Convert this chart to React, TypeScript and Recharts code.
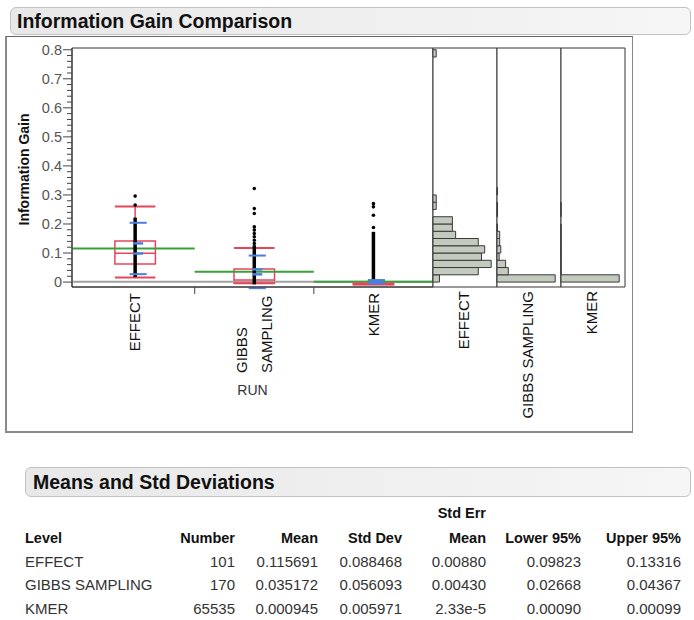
import React from 'react';
import { ComposedChart, XAxis, YAxis, ReferenceLine, ReferenceArea, Scatter } from 'recharts';

const FONT = '"Liberation Sans", Arial, Helvetica, sans-serif';

// ---------------- data ----------------
const groups = ['EFFECT', 'GIBBS SAMPLING', 'KMER'];
const groupLabelLines = [['EFFECT'], ['GIBBS', 'SAMPLING'], ['KMER']];
const groupCounts = [101, 170, 65535];
const means = [0.115691, 0.035172, 0.000945];
const stdDevs = [0.088468, 0.056093, 0.005971];
const stdErrs = [0.0088, 0.0043, 0.0000233];
const lower95 = [0.09823, 0.02668, 0.0009];
const upper95 = [0.13316, 0.04367, 0.00099];

const whiskerLow = [0.016, -0.004, -0.008];
const quartile1 = [0.062, -0.004, -0.008];
const medians = [0.099, 0.007, -0.0065];
const quartile3 = [0.141, 0.045, -0.005];
const whiskerHigh = [0.26, 0.117, -0.005];
const grandMean = 0.0012;

// dense runs of stacked points and separate points
const pointRunLow = [0.017, -0.008, -0.006];
const pointRunHigh = [0.222, 0.127, 0.173];
const outlierGroup = [0, 0, 1, 1, 1, 1, 1, 1, 1, 1, 1, 2, 2, 2, 2];
const outlierValue = [0.265, 0.296, 0.133, 0.144, 0.156, 0.167, 0.179, 0.19, 0.236, 0.253, 0.322, 0.188, 0.23, 0.259, 0.27];

const binStarts = [0, 0.025, 0.05, 0.075, 0.1, 0.125, 0.15, 0.175, 0.2, 0.225, 0.25, 0.275, 0.3, 0.325, 0.35, 0.375,
  0.4, 0.425, 0.45, 0.475, 0.5, 0.525, 0.55, 0.575, 0.6, 0.625, 0.65, 0.675, 0.7, 0.725, 0.75, 0.775];
const binWidth = 0.025;
const effectCounts = [2, 14, 18, 15, 16, 14, 7, 6, 6, 0, 1, 1, 0, 0, 0, 0, 0, 0, 0, 0, 0, 0, 0, 0, 0, 0, 0, 0, 0, 0, 0, 1];
const gibbsCounts = [108, 21, 16, 4, 7, 5, 5, 1, 0, 1, 1, 0, 1, 0, 0, 0, 0, 0, 0, 0, 0, 0, 0, 0, 0, 0, 0, 0, 0, 0, 0, 0];
const kmerCounts = [65480, 20, 10, 8, 6, 4, 3, 1, 0, 1, 2, 0, 0, 0, 0, 0, 0, 0, 0, 0, 0, 0, 0, 0, 0, 0, 0, 0, 0, 0, 0, 0];
const histCounts = [effectCounts, gibbsCounts, kmerCounts];

const yTicks = [0, 0.02, 0.04, 0.06, 0.08, 0.1, 0.12, 0.14, 0.16, 0.18, 0.2, 0.22, 0.24, 0.26, 0.28, 0.3, 0.32, 0.34,
  0.36, 0.38, 0.4, 0.42, 0.44, 0.46, 0.48, 0.5, 0.52, 0.54, 0.56, 0.58, 0.6, 0.62, 0.64, 0.66, 0.68, 0.7, 0.72, 0.74,
  0.76, 0.78, 0.8];
const xTicks = [0.5, 1, 1.5, 2, 2.5];

const tableHeaders = ['Number', 'Mean', 'Std Dev', 'Mean', 'Lower 95%', 'Upper 95%'];

// ---------------- layout / style ----------------
const Y_DOMAIN: [number, number] = [-0.017, 0.806];
const X_DOMAIN: [number, number] = [-0.03, 3];
const RED = '#e6465a';
const GREEN = '#3aa13a';
const BLUE = '#4a7ee0';
const BOX_HALF = 0.17;
const BLUE_SHIFT = 0.025;

const outliers = outlierValue.map((v, i) => ({ x: outlierGroup[i] + 0.5, y: v }));

const renderYTick = (props: any) => {
  const { x, y, payload } = props;
  const v = payload.value as number;
  const major = Math.abs(v * 10 - Math.round(v * 10)) < 1e-6;
  return (
    <g key={`yt-${v}`}>
      <line x1={x - (major ? 9 : 5)} y1={y} x2={x} y2={y} stroke="#444" strokeWidth={1} />
      {major ? (
        <text x={x - 10} y={y} dy="0.36em" textAnchor="end" fontSize={14.5} fill="#555" fontFamily={FONT}>
          {v === 0 ? '0' : String(v)}
        </text>
      ) : null}
    </g>
  );
};

const renderXTick = (props: any) => {
  const { x, y, payload } = props;
  const v = payload.value as number;
  if (Number.isInteger(v)) {
    return <line key={`xt-${v}`} x1={x} y1={y} x2={x} y2={y + 7} stroke="#444" strokeWidth={1} />;
  }
  const lines = groupLabelLines[Math.floor(v)];
  if (lines.length === 1) {
    const y0 = y + 6;
    return (
      <text key={`xl-${v}`} transform={`rotate(-90, ${x}, ${y0})`} x={x} y={y0} dy="0.35em" textAnchor="end"
        fontSize={15} fill="#111" fontFamily={FONT}>
        {lines[0]}
      </text>
    );
  }
  const y0 = y + 86;
  return (
    <g key={`xl-${v}`}>
      {lines.map((t, i) => {
        const lx = x + (i - (lines.length - 1) / 2) * 25;
        return (
          <text key={t} transform={`rotate(-90, ${lx}, ${y0})`} x={lx} y={y0} dy="0.35em" textAnchor="start"
            fontSize={15} fill="#111" fontFamily={FONT}>
            {t}
          </text>
        );
      })}
    </g>
  );
};

const makeHistTick = (name: string) => (props: any) => {
  const { x, y } = props;
  const lx = x - 1;
  const y0 = y + 4;
  return (
    <text transform={`rotate(-90, ${lx}, ${y0})`} x={lx} y={y0} dy="0.35em" textAnchor="end" fontSize={15}
      fill="#111" fontFamily={FONT}>
      {name}
    </text>
  );
};

const dotShape = (p: any) => <circle cx={p.cx} cy={p.cy} r={1.8} fill="#000" />;

function MainPlot() {
  return (
    <ComposedChart width={434} height={440} margin={{ top: 48, right: 1, bottom: 0, left: 0 }}>
      <XAxis type="number" dataKey="x" domain={X_DOMAIN} ticks={xTicks} interval={0} tickSize={0} tickMargin={0}
        tickLine={false} tick={renderXTick} axisLine={{ stroke: '#333' }} height={153} allowDataOverflow
        label={{ value: 'RUN', position: 'insideTop', offset: 98, fill: '#333', fontSize: 14 }} />
      <YAxis type="number" dataKey="y" domain={Y_DOMAIN} ticks={yTicks} interval={0} tickSize={0} tickMargin={0}
        tickLine={false} tick={renderYTick} axisLine={{ stroke: '#333' }} width={72} allowDataOverflow
        label={{ value: 'Information Gain', angle: -90, position: 'center', dx: -12, dy: 2, fill: '#111', fontSize: 14, fontWeight: 'bold' }} />
      <ReferenceArea x1={X_DOMAIN[0]} x2={X_DOMAIN[1]} y1={Y_DOMAIN[0]} y2={Y_DOMAIN[1]} fill="none" stroke="#333" strokeWidth={1} />
      <ReferenceLine y={grandMean} stroke="#a0a0a0" strokeWidth={2} />
      {groups.map((g, i) => (
        <ReferenceLine key={`mean-${g}`} segment={[{ x: i === 0 ? X_DOMAIN[0] : i, y: means[i] }, { x: i + 1, y: means[i] }]}
          stroke={GREEN} strokeWidth={2} ifOverflow="visible" />
      ))}
      {groups.map((g, i) => {
        const c = i + 0.5;
        return (
          <React.Fragment key={`box-${g}`}>
            <ReferenceArea x1={c - BOX_HALF} x2={c + BOX_HALF} y1={quartile1[i]} y2={quartile3[i]} fill="none" stroke={RED} strokeWidth={1.5} ifOverflow="visible" />
            <ReferenceLine segment={[{ x: c - BOX_HALF, y: medians[i] }, { x: c + BOX_HALF, y: medians[i] }]} stroke={RED} strokeWidth={1.5} ifOverflow="visible" />
            <ReferenceLine segment={[{ x: c, y: quartile3[i] }, { x: c, y: whiskerHigh[i] }]} stroke={RED} strokeWidth={1.5} ifOverflow="visible" />
            <ReferenceLine segment={[{ x: c, y: quartile1[i] }, { x: c, y: whiskerLow[i] }]} stroke={RED} strokeWidth={1.5} ifOverflow="visible" />
            <ReferenceLine segment={[{ x: c - BOX_HALF, y: whiskerHigh[i] }, { x: c + BOX_HALF, y: whiskerHigh[i] }]} stroke={RED} strokeWidth={2} ifOverflow="visible" />
            <ReferenceLine segment={[{ x: c - BOX_HALF, y: whiskerLow[i] }, { x: c + BOX_HALF, y: whiskerLow[i] }]} stroke={RED} strokeWidth={2} ifOverflow="visible" />
          </React.Fragment>
        );
      })}
      {groups.map((g, i) => (
        <ReferenceLine key={`run-${g}`} segment={[{ x: i + 0.5, y: pointRunLow[i] }, { x: i + 0.5, y: pointRunHigh[i] }]}
          stroke="#000" strokeWidth={3.5} ifOverflow="visible" />
      ))}
      <Scatter data={outliers} dataKey="y" shape={dotShape} isAnimationActive={false} />
      {groups.map((g, i) => {
        const c = i + 0.5 + BLUE_SHIFT;
        const hi = means[i] + stdDevs[i];
        const lo = means[i] - stdDevs[i];
        return (
          <React.Fragment key={`blue-${g}`}>
            <ReferenceLine segment={[{ x: c - 0.072, y: hi }, { x: c + 0.072, y: hi }]} stroke={BLUE} strokeWidth={2} ifOverflow="visible" />
            <ReferenceLine segment={[{ x: c - 0.072, y: lo }, { x: c + 0.072, y: lo }]} stroke={BLUE} strokeWidth={2} ifOverflow="visible" />
            <ReferenceLine segment={[{ x: c - 0.042, y: upper95[i] }, { x: c + 0.042, y: upper95[i] }]} stroke={BLUE} strokeWidth={2.5} ifOverflow="visible" />
            <ReferenceLine segment={[{ x: c - 0.042, y: lower95[i] }, { x: c + 0.042, y: lower95[i] }]} stroke={BLUE} strokeWidth={2.5} ifOverflow="visible" />
          </React.Fragment>
        );
      })}
    </ComposedChart>
  );
}

function HistPanel({ idx }: { idx: number }) {
  const counts = histCounts[idx];
  const maxX = Math.max(...counts) * 1.1;
  return (
    <ComposedChart width={66} height={440} margin={{ top: 48, right: 1, bottom: 0, left: 1 }}>
      <XAxis type="number" dataKey="c" domain={[0, maxX]} ticks={[maxX / 2]} interval={0} tickSize={0} tickMargin={0}
        tickLine={false} axisLine={false} tick={makeHistTick(groups[idx])} height={153} allowDataOverflow />
      <YAxis type="number" dataKey="y" domain={Y_DOMAIN} hide allowDataOverflow />
      <ReferenceArea x1={0} x2={maxX} y1={Y_DOMAIN[0]} y2={Y_DOMAIN[1]} fill="#fff" fillOpacity={1} stroke="#333" strokeWidth={1} />
      {binStarts.map((b, i) =>
        counts[i] > 0 ? (
          <ReferenceArea key={`bin-${i}`} x1={0} x2={counts[i]} y1={b} y2={b + binWidth} fill="#c3cabe" fillOpacity={1}
            stroke="#3a3a3a" strokeWidth={1} />
        ) : null
      )}
    </ComposedChart>
  );
}

const barStyle: React.CSSProperties = {
  position: 'absolute',
  boxSizing: 'border-box',
  border: '1px solid #c2c2c2',
  borderRadius: 6,
  background: 'linear-gradient(to right, #e8e8e8, #f6f6f6)',
  fontWeight: 'bold',
  fontSize: 19.5,
  color: '#111',
  display: 'flex',
  alignItems: 'center',
};

const fmtStdErr = (v: number) => (v < 1e-4 ? v.toExponential(2) : v.toFixed(5));

function StatsTable() {
  const colRight = [235, 318, 402, 486, 581, 681];
  const rowY = [562, 585, 609];
  const cell = (text: string, right: number, y: number, bold: boolean, key: string) => (
    <div key={key} style={{ position: 'absolute', left: right - 140, width: 140, top: y - 10, lineHeight: '20px', textAlign: 'right',
      fontSize: bold ? 14.5 : 15, fontWeight: bold ? 'bold' : 'normal', color: bold ? '#111' : '#333', whiteSpace: 'nowrap' }}>
      {text}
    </div>
  );
  const rows = groups.map((g, i) => [
    String(groupCounts[i]),
    means[i].toFixed(6),
    stdDevs[i].toFixed(6),
    fmtStdErr(stdErrs[i]),
    lower95[i].toFixed(5),
    upper95[i].toFixed(5),
  ]);
  return (
    <>
      {cell('Std Err', colRight[3], 513, true, 'se')}
      <div style={{ position: 'absolute', left: 25, top: 528, lineHeight: '20px', fontSize: 14.5, fontWeight: 'bold', color: '#111' }}>Level</div>
      {tableHeaders.map((h, j) => cell(h, colRight[j], 538, true, `h-${j}`))}
      {groups.map((g, i) => (
        <React.Fragment key={`r-${g}`}>
          <div style={{ position: 'absolute', left: 25, top: rowY[i] - 10, lineHeight: '20px', fontSize: 15, color: '#333', whiteSpace: 'nowrap' }}>{g}</div>
          {rows[i].map((t, j) => cell(t, colRight[j], rowY[i], false, `c-${i}-${j}`))}
        </React.Fragment>
      ))}
    </>
  );
}

export default function App() {
  return (
    <div style={{ position: 'absolute', left: 0, top: 0, width: 694, height: 620, background: '#fff', fontFamily: FONT, overflow: 'hidden' }}>
      <div style={{ ...barStyle, left: 10, top: 7, width: 681, height: 28, paddingLeft: 6 }}>Information Gain Comparison</div>
      <div style={{ position: 'absolute', left: 5, top: 36, width: 628, height: 397, boxSizing: 'border-box',
        borderTop: '1px solid #666', borderRight: '1px solid #888', borderLeft: '2px solid #8a8a8a', borderBottom: '2px solid #8a8a8a' }} />
      <div style={{ position: 'absolute', left: 0, top: 0 }}><MainPlot /></div>
      <div style={{ position: 'absolute', left: 432, top: 0 }}><HistPanel idx={0} /></div>
      <div style={{ position: 'absolute', left: 496, top: 0 }}><HistPanel idx={1} /></div>
      <div style={{ position: 'absolute', left: 560, top: 0 }}><HistPanel idx={2} /></div>
      <div style={{ ...barStyle, left: 25, top: 467, width: 666, height: 30, paddingLeft: 7 }}>Means and Std Deviations</div>
      <StatsTable />
    </div>
  );
}
